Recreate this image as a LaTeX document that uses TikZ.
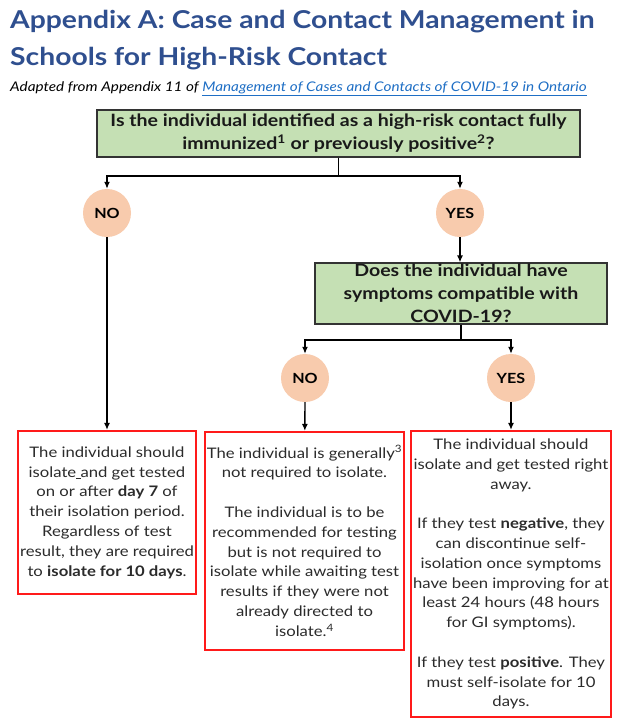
\documentclass[tikz,border=0pt]{standalone}
\usepackage{fontspec}
\setmainfont{Lato}[FakeStretch=1.15]
\usetikzlibrary{arrows.meta,positioning}
\definecolor{hrBlue}{HTML}{2F4F8F}
\definecolor{hrLink}{HTML}{1F6FC5}
\definecolor{hrGreen}{HTML}{C5E0B4}
\definecolor{hrPeach}{HTML}{F8CBAD}
\definecolor{hrRed}{HTML}{FF1A1A}
\definecolor{hrText}{HTML}{2B2B2B}

\begin{document}
\begin{tikzpicture}[x=1pt, y=-1pt,
    question/.style={draw=black!80, line width=1.2pt, fill=hrGreen, inner sep=2pt, align=center,
        font=\fontsize{17}{23}\selectfont\bfseries, text=black!90},
    answer/.style={circle, fill=hrPeach, minimum size=48pt, inner sep=0pt,
        font=\fontsize{14}{16}\selectfont\bfseries},
    outcome/.style={draw=hrRed, line width=2.2pt, align=center, inner sep=2pt, text=hrText,
        font=\fontsize{14.5}{19.8}\selectfont},
    arr/.style={-{Latex[length=7pt,width=6pt]}, line width=1.3pt},
    link/.style={line width=1.3pt}]
  \useasboundingbox[fill=white] (0,0) rectangle (621,724);

  % heading
  \node[anchor=base west, inner sep=0pt, text=hrBlue, font=\fontsize{24.6}{30}\selectfont\bfseries] (title1) at (10,28)
      {Appendix A: Case and Contact Management in};
  \node[anchor=base west, inner sep=0pt, text=hrBlue, font=\fontsize{24.6}{30}\selectfont\bfseries] (title2) at (10,65)
      {Schools for High-Risk Contact};
  \node[anchor=base west, inner sep=0pt, font=\fontsize{13.3}{15}\selectfont\itshape] (source) at (10,91)
      {Adapted from Appendix 11 of \textcolor{hrLink}{\underline{Management of Cases and Contacts of COVID-19 in Ontario}}};

  % questions
  \node[question, minimum width=483pt, minimum height=47pt] (q1) at (338.5,133.5)
      {Is the individual identified as a high-risk contact fully\\ immunized\textsuperscript{1} or previously positive\textsuperscript{2}?};
  \node[question, minimum width=292pt, minimum height=61pt, inner sep=0pt] (q2) at (461,293.5)
      {Does the individual have\\ symptoms compatible with\\ COVID-19?};

  % answers
  \node[answer] (no1) at (107,213) {NO};
  \node[answer] (yes1) at (460,213) {YES};
  \node[answer] (no2) at (305,378) {NO};
  \node[answer] (yes2) at (511,378) {YES};

  % outcomes
  \node[outcome, minimum width=178pt, minimum height=163pt] (stayA) at (107,512.5)
      {The individual should\\ isolate\underline{ }and get tested\\ on or after \textbf{day 7} of\\ their isolation period.\\
       Regardless of test\\ result, they are required\\ to \textbf{isolate for 10 days}.};
  \node[outcome, minimum width=199pt, minimum height=218pt] (stayB) at (304.5,541)
      {The individual is generally\textsuperscript{3}\\ not required to isolate.\\[19.8pt]
       The individual is to be\\ recommended for testing\\ but is not required to\\ isolate while awaiting test\\
       results if they were not\\ already directed to\\ isolate.\textsuperscript{4}};
  \node[outcome, minimum width=200pt, minimum height=286pt] (stayC) at (511,574)
      {The individual should\\ isolate and get tested right\\ away.\\[19.8pt]
       If they test \textbf{negative}, they\\ can discontinue self-\\ isolation once symptoms\\ have been improving for at\\
       least 24 hours (48 hours\\ for GI symptoms).\\[19.8pt]
       If they test \textbf{positive}. They\\ must self-isolate for 10\\ days.};

  % connectors
  \coordinate (split1) at (q1.south |- 0,176);
  \coordinate (split2) at (q2.south |- 0,340);
  \draw[link] (q1.south) -- (split1);
  \draw[arr] (split1) -| (no1.north);
  \draw[arr] (split1) -| (yes1.north);
  \draw[arr] (yes1) -- (yes1 |- q2.north);
  \draw[link] (q2.south) -- (split2);
  \draw[arr] (split2) -| (no2.north);
  \draw[arr] (split2) -| (yes2.north);
  \draw[arr] (no1) -- (stayA);
  \draw[arr] (no2) -- (stayB);
  \draw[arr] (yes2) -- (stayC);
\end{tikzpicture}
\end{document}
